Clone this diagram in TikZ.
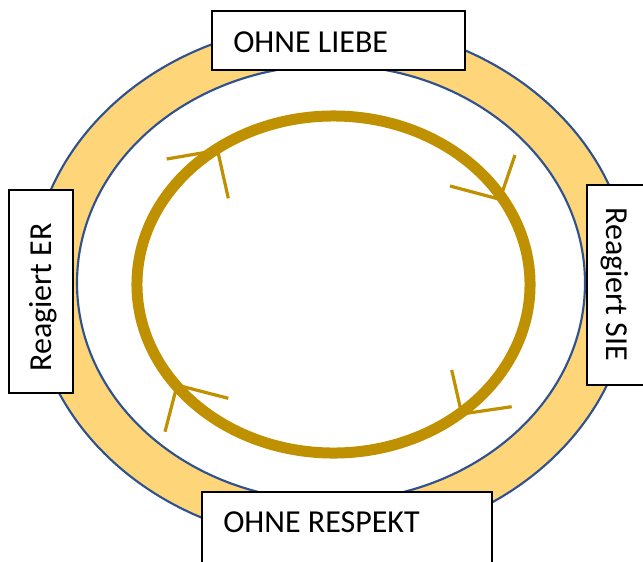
\documentclass[tikz,border=0pt]{standalone}
\usepackage{fontspec}
\setmainfont{Carlito}
\definecolor{ringfill}{HTML}{FFD579}
\definecolor{ringblue}{HTML}{2F528F}
\definecolor{gold}{HTML}{BF9000}
\tikzset{
  band/.style={draw=ringblue, line width=1.6pt},
  goldring/.style={draw=gold, line width=8.25pt},
  arrowarm/.style={draw=gold, line width=2.4pt},
  labelbox/.style={draw=black, line width=0.9pt, fill=white},
  labeltext/.style={font=\fontsize{24}{28}\selectfont, inner sep=0pt, text=black}
}
\begin{document}
\begin{tikzpicture}[x=0.75pt,y=-0.75pt]
\useasboundingbox (0,0) rectangle (643,561);
\clip (0,0) rectangle (643,561);
% bands
\coordinate (c) at (331,283);
\coordinate (rc) at (333.5,284.5);
\draw[band, fill=ringfill] (c) ellipse [x radius=225pt, y radius=195pt];
\draw[band, fill=white] (c) ellipse [x radius=190.5pt, y radius=163.5pt];
% gold ring
\draw[goldring] (rc) ellipse [x radius=147.4pt, y radius=126.4pt];
% arrow heads on the ring
\coordinate (a1) at (217.6,150.3);
\coordinate (a1l) at (166.7,159);
\coordinate (a1r) at (228.3,198.3);
\coordinate (a2) at (499.8,199.3);
\coordinate (a2l) at (450,186);
\coordinate (a2r) at (515,155);
\coordinate (a3) at (177.1,385.1);
\coordinate (a3l) at (228.3,398.3);
\coordinate (a3r) at (165,431.7);
\coordinate (a4) at (461.7,414);
\coordinate (a4l) at (451.7,370);
\coordinate (a4r) at (511.7,406.7);
\draw[arrowarm] (a1l) -- (a1) -- (a1r);
\draw[arrowarm] (a2l) -- (a2) -- (a2r);
\draw[arrowarm] (a3l) -- (a3) -- (a3r);
\draw[arrowarm] (a4l) -- (a4) -- (a4r);
% label boxes
\draw[labelbox] (212,11) rectangle (465,70);
\node[labeltext, anchor=base west] (liebe) at (233,52) {OHNE LIEBE};
\draw[labelbox] (202,492) rectangle (492,570);
\node[labeltext, anchor=base west] (respekt) at (223,532) {OHNE RESPEKT};
\draw[labelbox] (9,190) rectangle (73,393);
\node[labeltext, anchor=base west, rotate=90] (er) at (51,372) {Reagiert ER};
\draw[labelbox] (587,185) rectangle (650,385);
\node[labeltext, anchor=base west, rotate=-90] (sie) at (606,207) {Reagiert SIE};
\end{tikzpicture}
\end{document}
